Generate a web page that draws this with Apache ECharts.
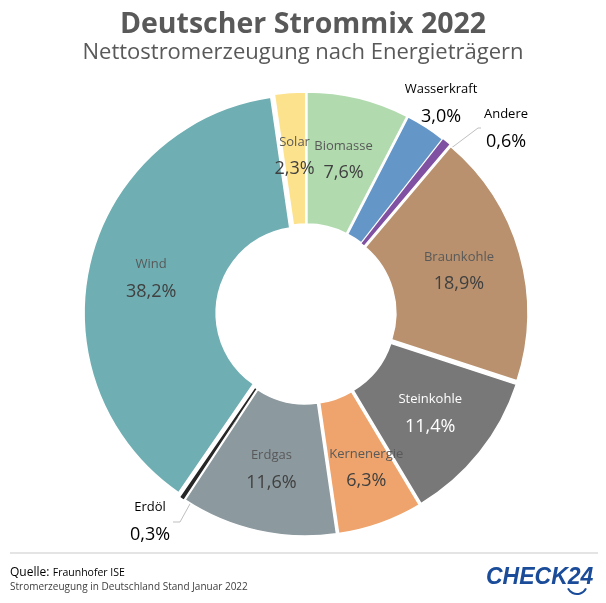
<!DOCTYPE html>
<html>
<head>
<meta charset="utf-8">
<script src="https://cdn.jsdelivr.net/npm/echarts@6/dist/echarts.min.js"></script>
<style>
html,body{margin:0;padding:0;background:#fff;}
#chart{width:606px;height:603px;}
</style>
</head>
<body>
<div id="chart"></div>
<script>
// ---- data (clockwise from 12 o'clock) ----
var categories = ['Biomasse','Wasserkraft','Andere','Braunkohle','Steinkohle','Kernenergie','Erdgas','Erdöl','Wind','Solar'];
var shares     = [7.6, 3.0, 0.6, 18.9, 11.4, 6.3, 11.6, 0.3, 38.2, 2.3];
var colors     = ['#b1dbae','#6596c8','#8050a2','#b9916e','#787878','#eea46c','#8c999e','#262626','#6faeb2','#fde28d'];
var titleText    = 'Deutscher Strommix 2022';
var subtitleText = 'Nettostromerzeugung nach Energieträgern';

// ---- placement of the labels of the small slices (outside the ring) ----
var outsideLabels = {
  'Wasserkraft': {x: 441, y: 103, line: null},
  'Andere':      {x: 506, y: 128, line: [[450,149],[478,128],[481,128]]},
  'Erdöl':       {x: 150, y: 521, line: [[238,417],[180,522],[173,522]]}
};
// small nudges of inside labels
var labelShift = {'Kernenergie': [7, 4]};
var FONT = 'Open Sans';

function fmt(v){ return v.toFixed(1).replace('.', ',') + '%'; }

var richStyles = {
  n:  {fontFamily: FONT, fontSize: 13, color: '#595959', lineHeight: 27, align: 'center'},
  v:  {fontFamily: FONT, fontSize: 18, color: '#404040', lineHeight: 27, align: 'center'},
  nw: {fontFamily: FONT, fontSize: 13, color: '#ffffff', lineHeight: 27, align: 'center'},
  vw: {fontFamily: FONT, fontSize: 18, color: '#ffffff', lineHeight: 27, align: 'center'}
};

var data = categories.map(function(c, i){
  var tiny = (c === 'Erdöl' || c === 'Andere');
  var outside = !!outsideLabels[c];
  return {
    name: c,
    value: shares[i],
    selected: true,
    itemStyle: {color: colors[i], borderColor: '#fff', borderWidth: tiny ? 0 : 1.5},
    select: {itemStyle: {color: colors[i], borderColor: '#fff', borderWidth: tiny ? 0 : 1.5}},
    label: {show: !outside, position: 'inside'}
  };
});

// texts + leader lines for the small slices, built from the data arrays
var outsideGraphics = [];
categories.forEach(function(c, i){
  var o = outsideLabels[c];
  if (!o) return;
  if (o.line) {
    outsideGraphics.push({type: 'polyline', silent: true, shape: {points: o.line},
      style: {stroke: '#bfbfbf', lineWidth: 1, fill: null}});
  }
  outsideGraphics.push({type: 'text', silent: true, x: o.x, y: o.y, style: {
    text: '{n|' + c + '}\n{v|' + fmt(shares[i]) + '}',
    rich: richStyles, align: 'center', verticalAlign: 'middle'
  }});
});

var chart = echarts.init(document.getElementById('chart'), null, {renderer: 'canvas'});
chart.setOption({
  backgroundColor: '#ffffff',
  animation: false,
  title: [
    {text: titleText, left: 'center', top: 5,
     textStyle: {fontFamily: FONT, fontSize: 28.5, fontWeight: 'bold', color: '#595959'}},
    {text: subtitleText, left: 'center', top: 37,
     textStyle: {fontFamily: FONT, fontSize: 22, fontWeight: 'normal', color: '#595959'}}
  ],
  series: [{
    type: 'pie',
    center: [306, 314],
    radius: [86, 218],
    startAngle: 90,
    clockwise: true,
    avoidLabelOverlap: false,
    selectedMode: 'multiple',
    selectedOffset: 4,
    emphasis: {disabled: true},
    silent: true,
    label: {
      show: true,
      formatter: function(p){
        var w = p.name === 'Steinkohle';
        return '{' + (w ? 'nw' : 'n') + '|' + p.name + '}\n{' + (w ? 'vw' : 'v') + '|' + fmt(p.value) + '}';
      },
      rich: richStyles
    },
    labelLine: {show: false},
    labelLayout: function(p){
      var s = labelShift[categories[p.dataIndex]];
      var r = {hideOverlap: false};
      if (s) { r.dx = s[0]; r.dy = s[1]; }
      return r;
    },
    data: data
  }],
  graphic: outsideGraphics.concat([
    {type: 'line', shape: {x1: 10, y1: 553, x2: 598, y2: 553}, style: {stroke: '#c9c9c9', lineWidth: 1}},
    {type: 'text', left: 10, top: 567, style: {
      text: '{a|Quelle:} {b|Fraunhofer ISE}',
      rich: {a: {fontFamily: FONT, fontSize: 12, color: '#404040'}, b: {fontFamily: FONT, fontSize: 10.5, color: '#404040'}}
    }},
    {type: 'text', left: 10, top: 582, style: {
      text: 'Stromerzeugung in Deutschland Stand Januar 2022',
      fontFamily: FONT, fontSize: 10, fill: '#404040'
    }},
    {type: 'text', left: 486, top: 566, style: {
      text: 'CHECK24', fontFamily: 'Liberation Sans', fontSize: 23, fontWeight: 'bold', fontStyle: 'italic', fill: '#1a4c9a'
    }},
    {type: 'arc', shape: {cx: 577, cy: 584, r: 10, startAngle: 0.45, endAngle: Math.PI - 0.45}, style: {stroke: '#1a4c9a', lineWidth: 2, fill: null}}
  ])
});
</script>
</body>
</html>
